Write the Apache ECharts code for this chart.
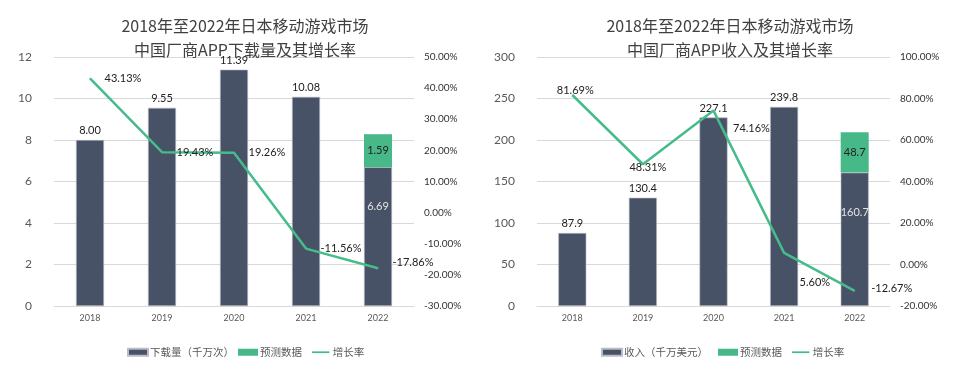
<!DOCTYPE html>
<html><head><meta charset="utf-8">
<script src="https://cdn.jsdelivr.net/npm/echarts@6/dist/echarts.min.js"></script>
<style>html,body{margin:0;padding:0;background:#fff}#c{width:971px;height:371px}</style>
</head><body><div id="c"></div>
<script>
const categories = ['2018', '2019', '2020', '2021', '2022'];
const downloads = [8.00, 9.55, 11.39, 10.08, 6.69];
const downloadsForecast = [null, null, null, null, 1.59];
const downloadsGrowth = [43.13, 19.43, 19.26, -11.56, -17.86];
const revenue = [87.9, 130.4, 227.1, 239.8, 160.7];
const revenueForecast = [null, null, null, null, 48.7];
const revenueGrowth = [81.69, 48.31, 74.16, 5.60, -12.67];
const leftTicks1 = {min: 0, max: 12, interval: 2};
const rightTicks1 = {min: -30, max: 50, interval: 10};
const leftTicks2 = {min: 0, max: 300, interval: 50};
const rightTicks2 = {min: -20, max: 100, interval: 20};

const FONT = 'Lato, "Noto Sans CJK SC", sans-serif';
const CJK = '"Noto Sans CJK SC", sans-serif';
const DARK = '#485266';
const GREEN = '#47b887';
const LINE = '#45bc8a';
const lineIcon = 'path://M0,0 M0,3 L20,3 L20,5 L0,5 Z M20,8';

const chart = echarts.init(document.getElementById('c'));

function growthData(vals, positions) {
  return vals.map((v, i) => ({value: v, label: positions[i]}));
}

const growth1Pos = [
  {position: 'right', offset: [9, 0]},
  {position: 'right', offset: [9, 0]},
  {position: 'right', offset: [9, 0]},
  {position: 'right', offset: [9, 0]},
  {position: 'right', offset: [9, -6]}
];
const growth2Pos = [
  {position: 'top', distance: 1, offset: [3, 2]},
  {position: 'inside', offset: [5, 3]},
  {position: 'right', offset: [14, 18]},
  {position: 'right', offset: [10, 30]},
  {position: 'right', offset: [11, -2]}
];

function axisLeft(t, grid) {
  return {type: 'value', gridIndex: grid, min: t.min, max: t.max, interval: t.interval,
    axisLine: {show: false}, axisTick: {show: false},
    axisLabel: {color: '#595959', fontSize: 12, fontFamily: FONT, margin: 22},
    splitLine: {lineStyle: {color: '#d9d9d9', width: 1}}};
}
function axisRight(t, grid) {
  return {type: 'value', gridIndex: grid, min: t.min, max: t.max, interval: t.interval, position: 'right',
    axisLine: {show: false}, axisTick: {show: false}, splitLine: {show: false},
    axisLabel: {color: '#333', fontSize: 10, fontFamily: FONT, margin: 10, formatter: v => v.toFixed(2) + '%'}};
}
function xAxis(grid) {
  return {type: 'category', gridIndex: grid, data: categories,
    axisLine: {lineStyle: {color: '#d9d9d9'}}, axisTick: {show: false},
    axisLabel: {color: '#595959', fontSize: 9, fontFamily: FONT, margin: 8}};
}
const barLabelTop = {show: true, position: 'top', color: '#222', fontSize: 11, fontFamily: FONT, distance: 4};

function barData(vals, fmt) {
  return vals.map((v, i) => {
    if (i === vals.length - 1) {
      return {value: v, label: {position: 'insideTop', distance: 34, color: '#e4e4e4', formatter: fmt(v)}};
    }
    return v;
  });
}

function leg(name, left, icon) {
  return {left: left, top: 342, itemWidth: 20, itemHeight: 7,
    textStyle: {color: '#595959', fontSize: 10.5, fontFamily: CJK, padding: [0, 0, 0, -3]},
    data: [{name: name, icon: icon}]};
}

chart.setOption({
  animation: false,
  title: [
    {text: '2018年至2022年日本移动游戏市场\n中国厂商APP下载量及其增长率', left: 240, top: 9, textAlign: 'center',
     textStyle: {fontSize: 16, fontWeight: 'normal', color: '#404040', lineHeight: 24, fontFamily: CJK}},
    {text: '2018年至2022年日本移动游戏市场\n中国厂商APP收入及其增长率', left: 725, top: 9, textAlign: 'center',
     textStyle: {fontSize: 16, fontWeight: 'normal', color: '#404040', lineHeight: 24, fontFamily: CJK}}
  ],
  legend: [
    leg('下载量（千万次）', 122, 'rect'),
    leg('预测数据', 233, 'rect'),
    leg('增长率', 307, lineIcon),
    leg('收入（千万美元）', 596, 'rect'),
    leg('预测数据 ', 713, 'rect'),
    leg('增长率 ', 787, lineIcon)
  ],
  grid: [
    {left: 54, right: 557, top: 57, bottom: 65},
    {left: 537, right: 81, top: 57, bottom: 65}
  ],
  xAxis: [xAxis(0), xAxis(1)],
  yAxis: [axisLeft(leftTicks1, 0), axisRight(rightTicks1, 0), axisLeft(leftTicks2, 1), axisRight(rightTicks2, 1)],
  series: [
    {name: '下载量（千万次）', type: 'bar', xAxisIndex: 0, yAxisIndex: 0, stack: 'a', barWidth: 28,
     itemStyle: {color: DARK, borderColor: '#b8bcc6', borderWidth: 0.6},
     label: Object.assign({}, barLabelTop, {formatter: p => p.value.toFixed(2)}),
     data: barData(downloads, v => v.toFixed(2))},
    {name: '预测数据', type: 'bar', xAxisIndex: 0, yAxisIndex: 0, stack: 'a', barWidth: 28,
     itemStyle: {color: GREEN},
     label: {show: true, position: 'inside', color: '#222', fontSize: 11, fontFamily: FONT, formatter: p => p.value.toFixed(2)},
     data: downloadsForecast},
    {name: '增长率', type: 'line', xAxisIndex: 0, yAxisIndex: 1, symbol: 'circle', symbolSize: 1,
     itemStyle: {color: LINE}, lineStyle: {color: LINE, width: 2.5},
     label: {show: true, color: '#222', fontSize: 11, fontFamily: FONT, formatter: p => p.value.toFixed(2) + '%'},
     data: growthData(downloadsGrowth, growth1Pos), z: 5},
    {name: '收入（千万美元）', type: 'bar', xAxisIndex: 1, yAxisIndex: 2, stack: 'b', barWidth: 28,
     itemStyle: {color: DARK, borderColor: '#b8bcc6', borderWidth: 0.6},
     label: Object.assign({}, barLabelTop, {formatter: p => p.value.toFixed(1)}),
     data: barData(revenue, v => v.toFixed(1))},
    {name: '预测数据 ', type: 'bar', xAxisIndex: 1, yAxisIndex: 2, stack: 'b', barWidth: 28,
     itemStyle: {color: GREEN},
     label: {show: true, position: 'inside', color: '#222', fontSize: 11, fontFamily: FONT, formatter: p => p.value.toFixed(1)},
     data: revenueForecast},
    {name: '增长率 ', type: 'line', xAxisIndex: 1, yAxisIndex: 3, symbol: 'circle', symbolSize: 1,
     itemStyle: {color: LINE}, lineStyle: {color: LINE, width: 2.5},
     label: {show: true, color: '#222', fontSize: 11, fontFamily: FONT, formatter: p => p.value.toFixed(2) + '%'},
     data: growthData(revenueGrowth, growth2Pos), z: 5}
  ]
});
</script>
</body></html>
